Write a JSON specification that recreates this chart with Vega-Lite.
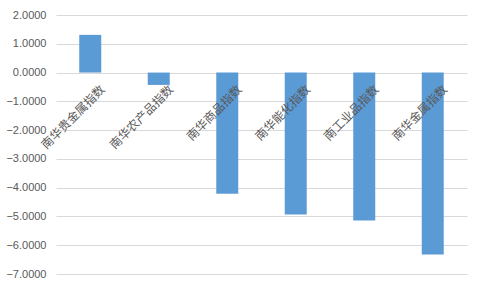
{
  "$schema": "https://vega.github.io/schema/vega-lite/v6.json",
  "autosize": {"type": "none"},
  "width": 411,
  "height": 259,
  "padding": {"left": 56, "top": 15, "right": 14, "bottom": 15},
  "background": "white",
  "data": {"values": [
    {"name": "南华贵金属指数", "value": 1.31},
    {"name": "南华农产品指数", "value": -0.43},
    {"name": "南华商品指数", "value": -4.21},
    {"name": "南华能化指数", "value": -4.93},
    {"name": "南工业品指数", "value": -5.14},
    {"name": "南华金属指数", "value": -6.32}
  ]},
  "mark": {"type": "bar", "color": "#5b9bd5", "width": 22},
  "encoding": {
    "x": {
      "field": "name", "type": "nominal", "sort": null,
      "scale": {"paddingInner": 0, "paddingOuter": 0},
      "axis": {
        "title": null, "labelAngle": -45, "domain": false, "ticks": false,
        "offset": -201.6, "labelPadding": 11, "labelOffset": 9, "zindex": 1,
        "labelFont": "Noto Sans CJK SC", "labelFontSize": 12, "labelColor": "#595959",
        "grid": false
      }
    },
    "y": {
      "field": "value", "type": "quantitative",
      "scale": {"domain": [-7, 2], "nice": false, "zero": false},
      "axis": {
        "title": null, "values": [2, 1, 0, -1, -2, -3, -4, -5, -6, -7], "format": ".4f",
        "domain": false, "ticks": false, "labelPadding": 10,
        "labelFont": "Liberation Sans", "labelFontSize": 11, "labelColor": "#595959",
        "gridColor": "#d9d9d9", "gridWidth": 1
      }
    }
  },
  "config": {"view": {"stroke": null}}
}
